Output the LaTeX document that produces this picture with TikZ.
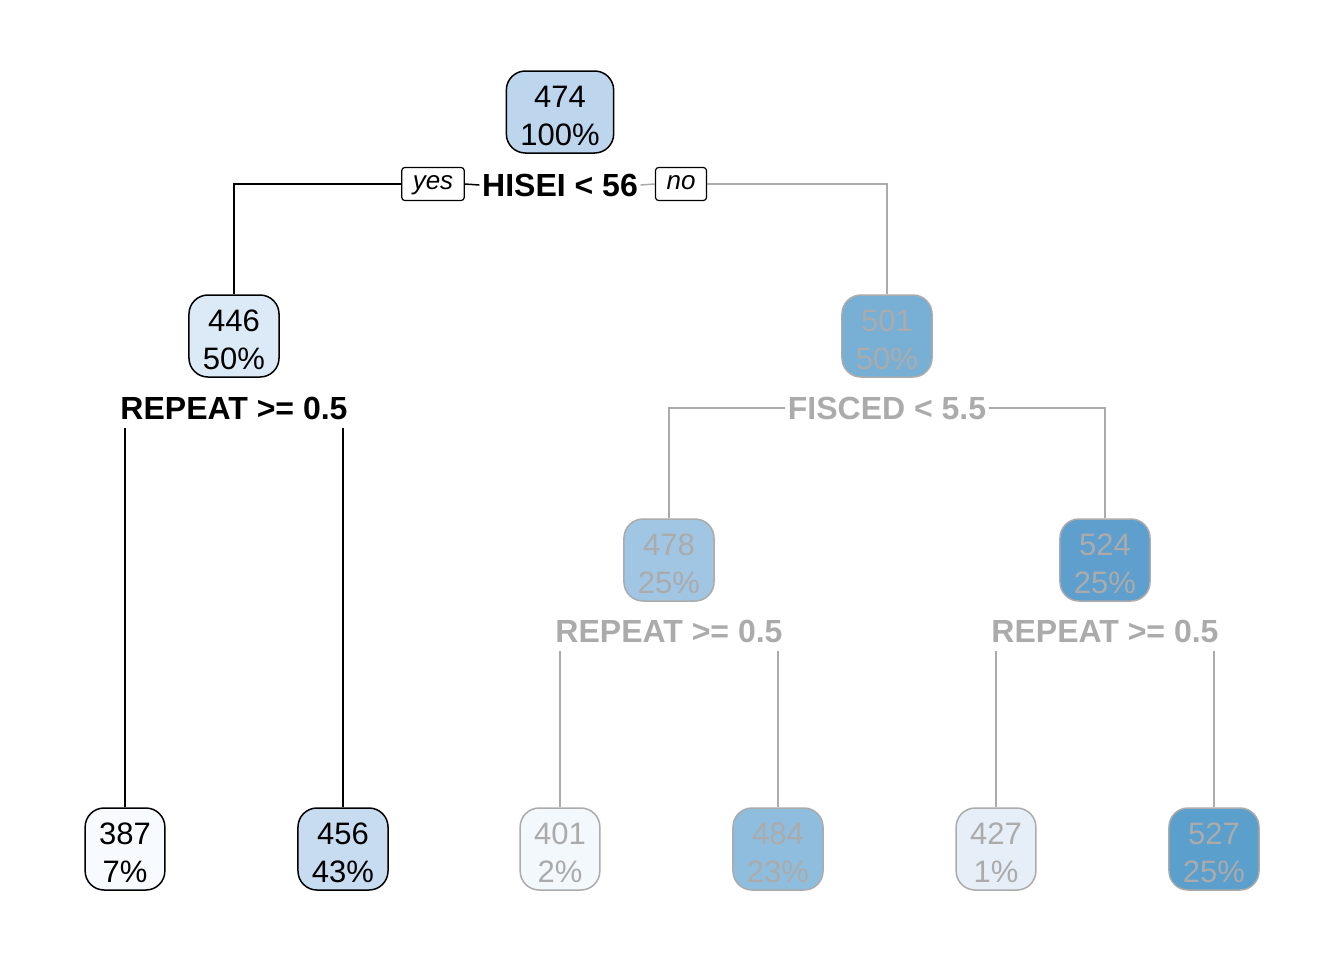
\documentclass[tikz,border=0pt]{standalone}
\usepackage{fontspec}
\setmainfont{Liberation Sans}
\usepackage{tikz}
\usetikzlibrary{positioning}

\definecolor{fadegray}{RGB}{171,171,171}
\definecolor{bA}{RGB}{189,213,237}
\definecolor{bB}{RGB}{220,233,246}
\definecolor{bC}{RGB}{120,175,213}
\definecolor{bD}{RGB}{160,198,227}
\definecolor{bE}{RGB}{94,159,205}
\definecolor{bF}{RGB}{247,251,255}
\definecolor{bG}{RGB}{199,220,240}
\definecolor{bH}{RGB}{243,248,253}
\definecolor{bI}{RGB}{143,189,221}
\definecolor{bJ}{RGB}{230,239,248}
\definecolor{bK}{RGB}{91,159,204}

% two-line box text: mean on top, share below
\newcommand{\fitval}[2]{\rule{0pt}{14.5pt}#1\\#2\%}

\tikzset{
  treebox/.style={draw, rounded corners=9.5pt, line width=0.75pt, align=center,
    minimum height=41pt, inner xsep=7pt, inner ysep=0pt,
    font=\fontsize{15.5}{19}\selectfont},
  split/.style={font=\fontsize{16}{19}\selectfont\bfseries, inner xsep=1pt,
    inner ysep=4pt, text height=11.5pt, text depth=0pt},
  answer/.style={draw, rounded corners=1.5pt, line width=0.6pt, minimum height=16.5pt,
    inner xsep=5.5pt, inner ysep=0pt, text height=7.8pt, text depth=2.7pt,
    font=\fontsize{13}{15}\selectfont\itshape},
  faded/.style={draw=fadegray, text=fadegray}
}

\begin{document}
\begin{tikzpicture}[x=0.5pt, y=-0.5pt, line width=0.75pt]
  \useasboundingbox (0,0) rectangle (1344,960);

  % split nodes
  \node (n474) [treebox, fill=bA] at (560,112) {\fitval{474}{100}};
  \node (hisei) [split] at (560,185) {HISEI < 56};
  \node (yes) [answer] at (433,184) {yes};
  \node (no) [answer] at (681,184) {no};
  \node (n446) [treebox, fill=bB] at (234,336) {\fitval{446}{50}};
  \node (rep1) [split] at (234,408) {REPEAT >= 0.5};
  \node (n501) [treebox, faded, fill=bC] at (887,336) {\fitval{501}{50}};
  \node (fisced) [split, text=fadegray] at (887,408) {FISCED < 5.5};
  \node (n478) [treebox, faded, fill=bD] at (669,560) {\fitval{478}{25}};
  \node (rep2) [split, text=fadegray] at (669,631) {REPEAT >= 0.5};
  \node (n524) [treebox, faded, fill=bE] at (1105,560) {\fitval{524}{25}};
  \node (rep3) [split, text=fadegray] at (1105,631) {REPEAT >= 0.5};

  % leaves
  \node (n387) [treebox, fill=bF] at (125,849) {\fitval{387}{7}};
  \node (n456) [treebox, fill=bG] at (343,849) {\fitval{456}{43}};
  \node (n401) [treebox, faded, fill=bH] at (560,849) {\fitval{401}{2}};
  \node (n484) [treebox, faded, fill=bI] at (778,849) {\fitval{484}{23}};
  \node (n427) [treebox, faded, fill=bJ] at (996,849) {\fitval{427}{1}};
  \node (n527) [treebox, faded, fill=bK] at (1214,849) {\fitval{527}{25}};

  % branches
  \draw (yes.west) -| (n446.north);
  \draw (yes.east) -- (hisei.west);
  \draw [fadegray] (hisei.east) -- (no.west);
  \draw [fadegray] (no.east) -| (n501.north);
  \draw (rep1.south -| n387.north) -- (n387.north);
  \draw (rep1.south -| n456.north) -- (n456.north);
  \draw [fadegray] (fisced.west) -| (n478.north);
  \draw [fadegray] (fisced.east) -| (n524.north);
  \draw [fadegray] (rep2.south -| n401.north) -- (n401.north);
  \draw [fadegray] (rep2.south -| n484.north) -- (n484.north);
  \draw [fadegray] (rep3.south -| n427.north) -- (n427.north);
  \draw [fadegray] (rep3.south -| n527.north) -- (n527.north);
\end{tikzpicture}
\end{document}
